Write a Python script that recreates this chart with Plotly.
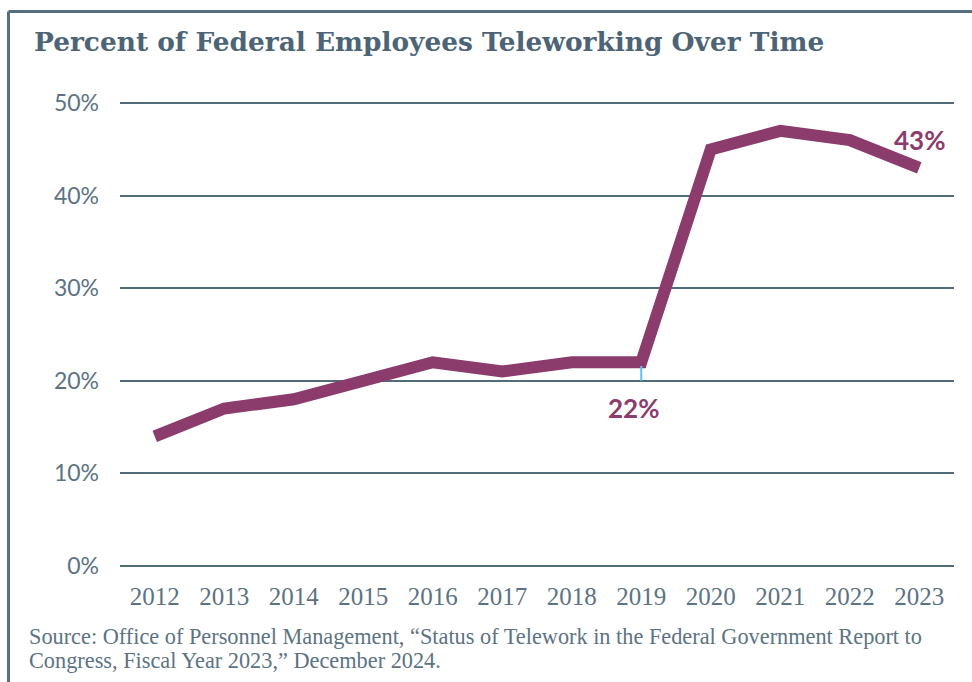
import plotly.graph_objects as go

years = ["2012", "2013", "2014", "2015", "2016", "2017", "2018", "2019", "2020", "2021", "2022", "2023"]
telework_pct = [14, 17, 18, 20, 22, 21, 22, 22, 45, 47, 46, 43]
y_ticks = [0, 10, 20, 30, 40, 50]
y_tick_labels = ["0%", "10%", "20%", "30%", "40%", "50%"]

title_text = "Percent of Federal Employees Teleworking Over Time"
source_lines = ["Source: Office of Personnel Management, \u201cStatus of Telework in the Federal Government Report to",
                "Congress, Fiscal Year 2023,\u201d December 2024."]

LINE = "#8C3B6D"
GRID = "#526B7B"
TICK = "#5C7383"
W, H = 972, 682
L, R, T, B = 120, 18, 102, 115
PW, PH = W - L - R, H - T - B


def px(x):
    return (x - L) / PW


def py(y):
    return (H - B - y) / PH


i19 = years.index("2019")
i23 = years.index("2023")

fig = go.Figure()
fig.add_trace(go.Scatter(
    x=years, y=telework_pct, mode="lines",
    line=dict(color=LINE, width=12),
    hoverinfo="skip", showlegend=False,
))

# leader line at 2019
fig.add_shape(type="line", xref="x", yref="y", x0=i19, x1=i19,
              y0=20, y1=telework_pct[i19] - 0.4, line=dict(color="#5CC3F0", width=2))

fig.add_annotation(x=i19, y=telework_pct[i19], xref="x", yref="y",
                   text="<b>22%</b>", showarrow=False, yshift=-46, xshift=-8,
                   font=dict(family="Lato", size=26, color=LINE))
fig.add_annotation(x=i23, y=telework_pct[i23], xref="x", yref="y",
                   text="<b>43%</b>", showarrow=False, yshift=28, xshift=0,
                   font=dict(family="Lato", size=26, color=LINE))

# title
fig.add_annotation(x=px(32), y=py(42), xref="paper", yref="paper", xanchor="left", yanchor="middle",
                   text="<b>" + title_text + "</b>", showarrow=False,
                   font=dict(family="DejaVu Serif", size=26.4, color="#4C6475"))
# source
for k, line in enumerate(source_lines):
    fig.add_annotation(x=px(27), y=py(636 + 24 * k), xref="paper", yref="paper", xanchor="left", yanchor="middle",
                       text=line, showarrow=False, align="left",
                       font=dict(family="Liberation Serif", size=22.3, color="#5C7383"))

# frame border (top and left)
fig.add_shape(type="line", xref="paper", yref="paper", x0=px(8.5), x1=px(W + 5), y0=py(11.5), y1=py(11.5),
              line=dict(color="#566F80", width=3))
fig.add_shape(type="line", xref="paper", yref="paper", x0=px(8.5), x1=px(8.5), y0=py(11.5), y1=py(H + 5),
              line=dict(color="#566F80", width=3))

fig.update_layout(
    width=W, height=H,
    margin=dict(l=L, r=R, t=T, b=B),
    paper_bgcolor="white", plot_bgcolor="white",
    xaxis=dict(type="category", range=[-0.5, 11.5], showgrid=False, zeroline=False, showline=False,
               ticks="", ticklabelstandoff=12,
               tickfont=dict(family="Liberation Serif", size=25, color=TICK)),
    yaxis=dict(range=[-0.12, 50.12], tickvals=y_ticks, ticktext=y_tick_labels, showgrid=True,
               gridcolor=GRID, gridwidth=2, zeroline=False, showline=False, ticks="",
               ticklabelstandoff=20,
               tickfont=dict(family="Lato", size=23, color=TICK)),
)

fig.write_html("out.html")
